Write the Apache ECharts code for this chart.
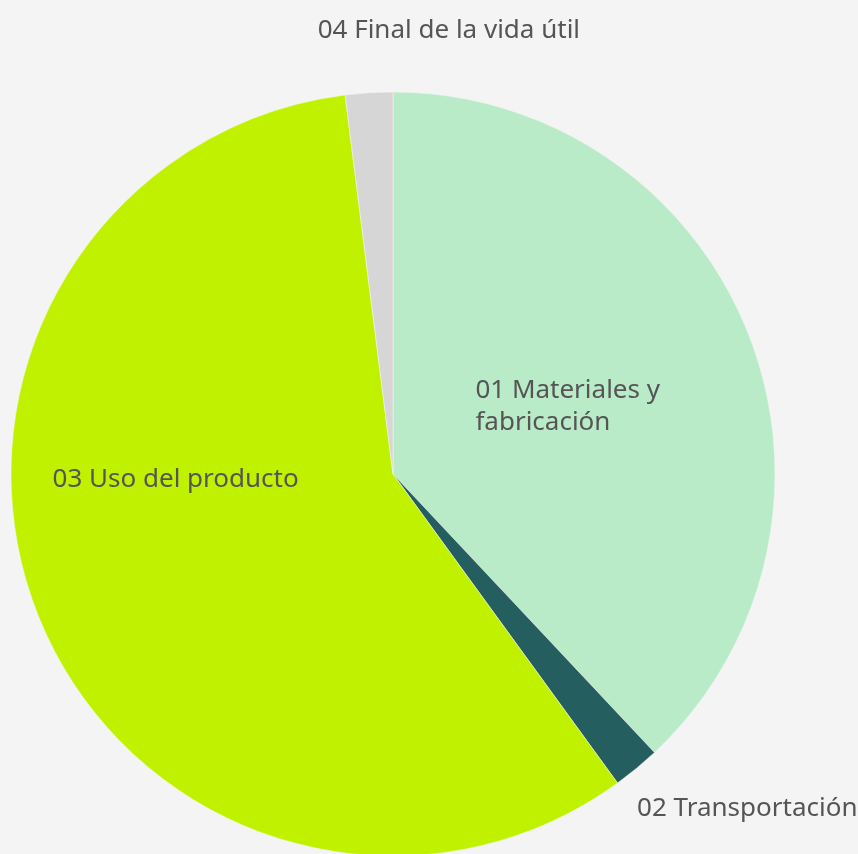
<!DOCTYPE html>
<html>
<head>
<meta charset="utf-8">
<style>
  html, body { margin: 0; padding: 0; background: #f4f4f4; }
  #chart { width: 858px; height: 854px; }
</style>
<script src="https://cdn.jsdelivr.net/npm/echarts@6/dist/echarts.min.js"></script>
</head>
<body>
<div id="chart"></div>
<script>
// etapas del ciclo de vida y su porcentaje
const categories = ['01 Materiales y fabricación', '02 Transportación', '03 Uso del producto', '04 Final de la vida útil'];
const values = [38, 2, 58, 2];
const colors = ['#b9ebc9', '#245e5f', '#c0f200', '#d6d6d6'];

const chart = echarts.init(document.getElementById('chart'));

const labelOpts = [
    { position: 'inside', formatter: '{a|01 Materiales y}\n{a|fabricación}', offset: [-3, 4] },
    { position: 'outside', offset: [-44, 29] },
    { position: 'inside', offset: [-37, -66] },
    { position: 'outside', offset: [247, -47] }
];

const data = categories.map((name, i) => ({
    name: name,
    value: values[i],
    itemStyle: { color: colors[i] },
    label: labelOpts[i]
}));

chart.setOption({
    backgroundColor: '#f4f4f4',
    animation: false,
    series: [
        {
            type: 'pie',
            center: [393, 474],
            radius: 382,
            startAngle: 90,
            clockwise: true,
            avoidLabelOverlap: false,
            itemStyle: { borderColor: '#f4f4f4', borderWidth: 0.5 },
            label: {
                color: '#555555',
                fontFamily: 'Noto Sans',
                fontSize: 26,
                lineHeight: 32,
                rich: {
                    a: { width: 190, align: 'left', color: '#555555', fontFamily: 'Noto Sans', fontSize: 26, lineHeight: 32 }
                }
            },
            labelLine: { show: false },
            emphasis: { disabled: true },
            data: data
        }
    ]
});
</script>
</body>
</html>
